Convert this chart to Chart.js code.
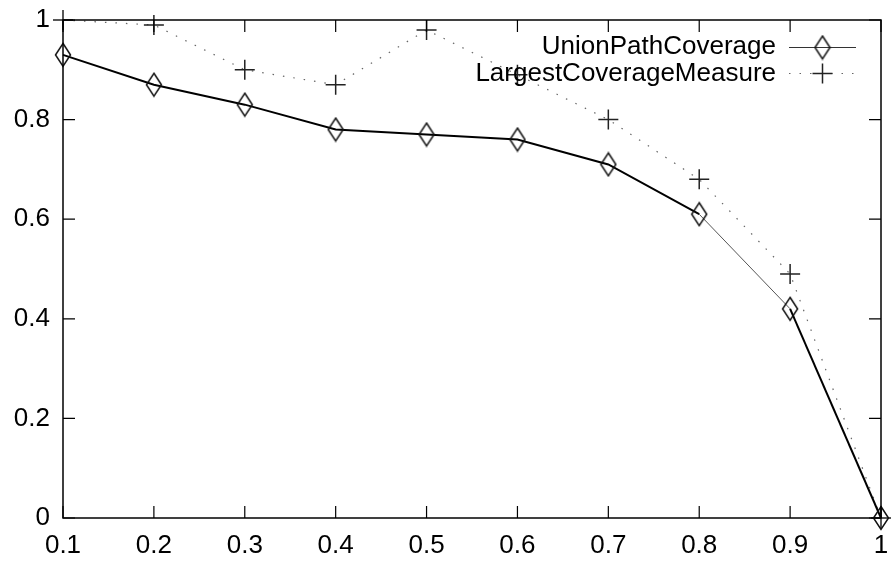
<!DOCTYPE html>
<html>
<head>
<meta charset="utf-8">
<script src="https://cdn.jsdelivr.net/npm/chart.js@4"></script>
<style>
  html, body { margin: 0; padding: 0; background: #fff; }
  canvas { display: block; }
</style>
</head>
<body>
<canvas id="courbe" width="893" height="563"></canvas>
<script>
// valeurs
const xValues = [0.1, 0.2, 0.3, 0.4, 0.5, 0.6, 0.7, 0.8, 0.9, 1];
const unionPath = [0.93, 0.87, 0.83, 0.78, 0.77, 0.76, 0.71, 0.61, 0.42, 0];
const largestCoverage = [1.0, 0.99, 0.90, 0.87, 0.98, 0.89, 0.80, 0.68, 0.49, 0];
const xTicks = [0.1, 0.2, 0.3, 0.4, 0.5, 0.6, 0.7, 0.8, 0.9, 1];
const xTickLabels = ['0.1', '0.2', '0.3', '0.4', '0.5', '0.6', '0.7', '0.8', '0.9', '1'];
const yTicks = [0, 0.2, 0.4, 0.6, 0.8, 1];
const yTickLabels = ['0', '0.2', '0.4', '0.6', '0.8', '1'];
const seriesNames = ['UnionPathCoverage', 'LargestCoverageMeasure'];

const FONT = '"Liberation Sans", Arial, Helvetica, sans-serif';
const FONT_SIZE = 26;

// losange allongé façon gnuplot
function makeDiamond() {
  const c = document.createElement('canvas');
  c.width = 18;
  c.height = 26;
  const g = c.getContext('2d');
  g.strokeStyle = '#111';
  g.lineWidth = 1.5;
  g.beginPath();
  g.moveTo(9, 1.5);
  g.lineTo(16.5, 13);
  g.lineTo(9, 24.5);
  g.lineTo(1.5, 13);
  g.closePath();
  g.stroke();
  return c;
}
const diamond = makeDiamond();

// pas de marge automatique autour des axes
function noPadding(s) {
  s.paddingTop = 0;
  s.paddingBottom = 0;
  s.paddingLeft = 0;
  s.paddingRight = 0;
}

// cadre + graduations intérieures (miroir sur les 4 côtés)
const framePlugin = {
  id: 'frame',
  afterDatasetsDraw(chart) {
    const { ctx, chartArea: a, scales } = chart;
    const tl = 12;
    ctx.save();
    ctx.strokeStyle = '#000';
    ctx.lineWidth = 1.5;
    ctx.strokeRect(a.left, a.top, a.right - a.left, a.bottom - a.top);
    ctx.lineWidth = 1.2;
    ctx.beginPath();
    xTicks.forEach(v => {
      const px = scales.x.getPixelForValue(v);
      ctx.moveTo(px, a.bottom); ctx.lineTo(px, a.bottom - tl);
      ctx.moveTo(px, a.top); ctx.lineTo(px, a.top + tl);
    });
    yTicks.forEach(v => {
      const py = scales.y.getPixelForValue(v);
      ctx.moveTo(a.left, py); ctx.lineTo(a.left + tl, py);
      ctx.moveTo(a.right, py); ctx.lineTo(a.right - tl, py);
    });
    ctx.stroke();
    ctx.restore();
  },
  afterDraw(chart) {
    // légende en haut à droite, texte aligné à droite, échantillon à droite
    const { ctx, chartArea: a } = chart;
    const textX = a.right - 105;
    const x0 = a.right - 92, x1 = a.right - 25, xm = (x0 + x1) / 2;
    const rows = [a.top + 26.5, a.top + 53.5];
    ctx.save();
    ctx.font = FONT_SIZE + 'px ' + FONT;
    ctx.fillStyle = '#000';
    ctx.textAlign = 'right';
    ctx.textBaseline = 'middle';
    seriesNames.forEach((n, i) => ctx.fillText(n, textX, rows[i]));

    ctx.lineWidth = 1;
    ctx.strokeStyle = '#333';
    ctx.beginPath();
    ctx.moveTo(x0, rows[0] + 1); ctx.lineTo(x1, rows[0] + 1);
    ctx.stroke();
    ctx.drawImage(diamond, xm - diamond.width / 2, rows[0] + 1 - diamond.height / 2);

    ctx.strokeStyle = '#666';
    ctx.setLineDash([1.5, 9]);
    ctx.beginPath();
    ctx.moveTo(x0, rows[1]); ctx.lineTo(x1, rows[1]);
    ctx.stroke();
    ctx.setLineDash([]);
    ctx.strokeStyle = '#222';
    ctx.lineWidth = 1.5;
    ctx.beginPath();
    ctx.moveTo(xm - 10, rows[1]); ctx.lineTo(xm + 10, rows[1]);
    ctx.moveTo(xm, rows[1] - 10); ctx.lineTo(xm, rows[1] + 10);
    ctx.stroke();
    ctx.restore();
  }
};

const ctx = document.getElementById('courbe').getContext('2d');
new Chart(ctx, {
  type: 'line',
  data: {
    datasets: [
      {
        label: seriesNames[0],
        data: xValues.map((x, i) => ({ x: x, y: unionPath[i] })),
        borderColor: '#000',
        borderWidth: 2,
        tension: 0,
        fill: false,
        clip: false,
        pointStyle: diamond,
        pointRadius: 10,
        segment: {
          // segment 0.8 -> 0.9 plus fin et gris comme sur l'original
          borderWidth: c => c.p0DataIndex === 7 ? 1 : 2,
          borderColor: c => c.p0DataIndex === 7 ? '#555' : '#000'
        }
      },
      {
        label: seriesNames[1],
        data: xValues.map((x, i) => ({ x: x, y: largestCoverage[i] })),
        borderColor: '#666',
        borderWidth: 1.2,
        borderDash: [1.5, 9],
        tension: 0,
        fill: false,
        clip: false,
        pointStyle: 'cross',
        pointRadius: 10,
        pointBorderColor: '#222',
        pointBorderWidth: 1.5
      }
    ]
  },
  options: {
    responsive: false,
    animation: false,
    layout: { padding: { top: 20, right: 11, left: 0, bottom: 0 } },
    plugins: {
      legend: { display: false },
      tooltip: { enabled: false }
    },
    scales: {
      x: {
        type: 'linear',
        min: 0.1,
        max: 1,
        afterBuildTicks: s => { s.ticks = xTicks.map(v => ({ value: v })); },
        afterFit: s => { s.height = 45; noPadding(s); },
        grid: { display: false, drawTicks: false },
        border: { display: false },
        ticks: {
          padding: 12,
          color: '#000',
          font: { family: FONT, size: FONT_SIZE },
          maxRotation: 0,
          autoSkip: false,
          callback: (v, i) => xTickLabels[i]
        }
      },
      y: {
        type: 'linear',
        min: 0,
        max: 1,
        afterBuildTicks: s => { s.ticks = yTicks.map(v => ({ value: v })); },
        afterFit: s => { s.width = 63; noPadding(s); },
        grid: { display: false, drawTicks: false },
        border: { display: false },
        ticks: {
          padding: 13,
          color: '#000',
          font: { family: FONT, size: FONT_SIZE },
          autoSkip: false,
          callback: (v, i) => yTickLabels[i]
        }
      }
    }
  },
  plugins: [framePlugin]
});
</script>
</body>
</html>
